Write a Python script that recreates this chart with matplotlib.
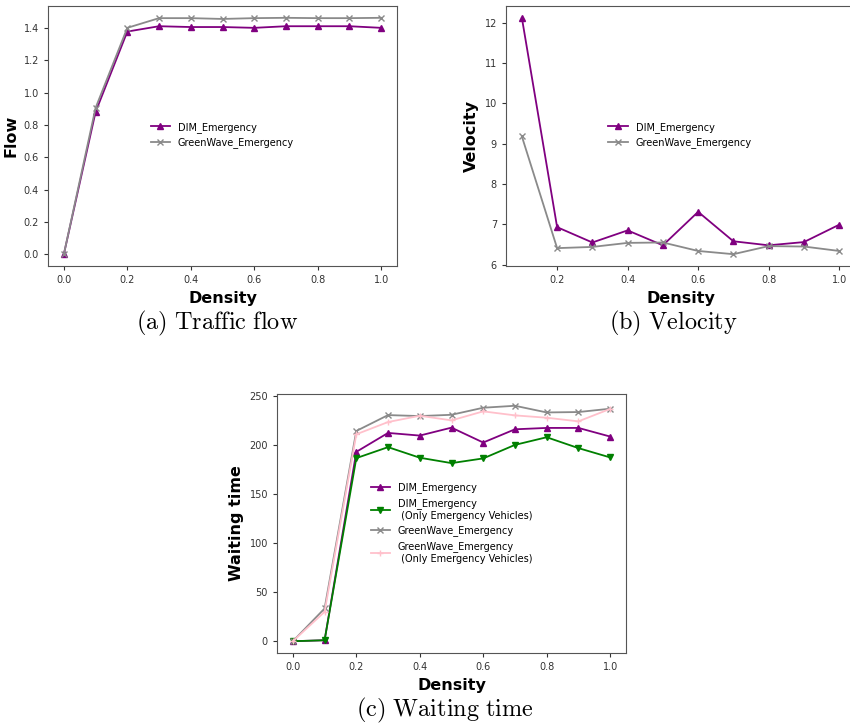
import numpy as np
import matplotlib
matplotlib.use("Agg")
import matplotlib.pyplot as plt

plt.rcParams["mathtext.fontset"] = "cm"

# density values
density = [0.0, 0.1, 0.2, 0.3, 0.4, 0.5, 0.6, 0.7, 0.8, 0.9, 1.0]
density_vel = density[1:]

# (a) traffic flow
flow_dim = [0.0, 0.88, 1.377, 1.41, 1.405, 1.405, 1.40, 1.41, 1.41, 1.41, 1.40]
flow_gw = [0.0, 0.905, 1.40, 1.46, 1.46, 1.455, 1.46, 1.462, 1.46, 1.46, 1.462]

# (b) velocity
vel_dim = [12.12, 6.93, 6.55, 6.85, 6.48, 7.31, 6.58, 6.48, 6.56, 6.99]
vel_gw = [9.18, 6.41, 6.44, 6.54, 6.55, 6.34, 6.26, 6.46, 6.45, 6.34]

# (c) waiting time
wait_dim = [0.0, 1.0, 193.2, 212.5, 209.8, 217.9, 202.7, 216.2, 217.6, 217.6, 208.8]
wait_dim_only = [0.0, 1.0, 186.8, 198.0, 187.2, 181.7, 186.5, 200.3, 208.1, 197.0, 187.5]
wait_gw = [0.0, 33.4, 214.5, 230.7, 229.7, 231.0, 238.2, 240.2, 233.4, 233.8, 237.2]
wait_gw_only = [0.0, 30.0, 211.1, 223.6, 230.0, 225.3, 234.5, 230.4, 228.0, 224.3, 237.0]

W, H = 850, 725
fig = plt.figure(figsize=(W / 100, H / 100), dpi=100)


def add_ax(left, top, right, bottom):
    return fig.add_axes([left / W, 1 - bottom / H, (right - left) / W, (bottom - top) / H])


def style(ax, ylabel):
    ax.set_xlabel("Density", fontsize=11.5, fontweight="bold")
    ax.set_ylabel(ylabel, fontsize=11.5, fontweight="bold")
    ax.tick_params(labelsize=7, length=3, colors="#333333")
    for s in ax.spines.values():
        s.set_color("#555555")


lw = 1.3
ms = 5
grey = "#8a8a8a"

ax1 = add_ax(48, 6, 397, 266)
ax1.plot(density, flow_dim, color="purple", marker="^", lw=lw, ms=ms, label="DIM_Emergency")
ax1.plot(density, flow_gw, color=grey, marker="x", lw=lw, ms=ms, label="GreenWave_Emergency")
style(ax1, "Flow")
ax1.legend(loc="center left", bbox_to_anchor=(0.283, 0.504), frameon=False, fontsize=7, borderaxespad=0)

ax2 = add_ax(506, 6, 855, 266)
ax2.plot(density_vel, vel_dim, color="purple", marker="^", lw=lw, ms=ms, label="DIM_Emergency")
ax2.plot(density_vel, vel_gw, color=grey, marker="x", lw=lw, ms=ms, label="GreenWave_Emergency")
style(ax2, "Velocity")
ax2.legend(loc="center left", bbox_to_anchor=(0.282, 0.504), frameon=False, fontsize=7, borderaxespad=0)

ax3 = add_ax(277, 394, 626, 653)
ax3.plot(density, wait_dim, color="purple", marker="^", lw=lw, ms=ms, label="DIM_Emergency")
ax3.plot(density, wait_dim_only, color="green", marker="v", lw=lw, ms=ms,
         label="DIM_Emergency\n (Only Emergency Vehicles)")
ax3.plot(density, wait_gw, color=grey, marker="x", lw=lw, ms=ms, label="GreenWave_Emergency")
ax3.plot(density, wait_gw_only, color="pink", marker="+", lw=lw, ms=ms,
         label="GreenWave_Emergency\n (Only Emergency Vehicles)")
style(ax3, "Waiting time")
ax3.legend(loc="center left", bbox_to_anchor=(0.257, 0.502), frameon=False, fontsize=7, borderaxespad=0)

fig.text(217 / W, 1 - 323 / H, r"$\mathrm{(a)\ Traffic\ flow}$", fontsize=17.5, ha="center", va="center")
fig.text(673 / W, 1 - 323 / H, r"$\mathrm{(b)\ Velocity}$", fontsize=17.5, ha="center", va="center")
fig.text(445 / W, 1 - 710 / H, r"$\mathrm{(c)\ Waiting\ time}$", fontsize=17.5, ha="center", va="center")

fig.savefig("out.png", dpi=100)
